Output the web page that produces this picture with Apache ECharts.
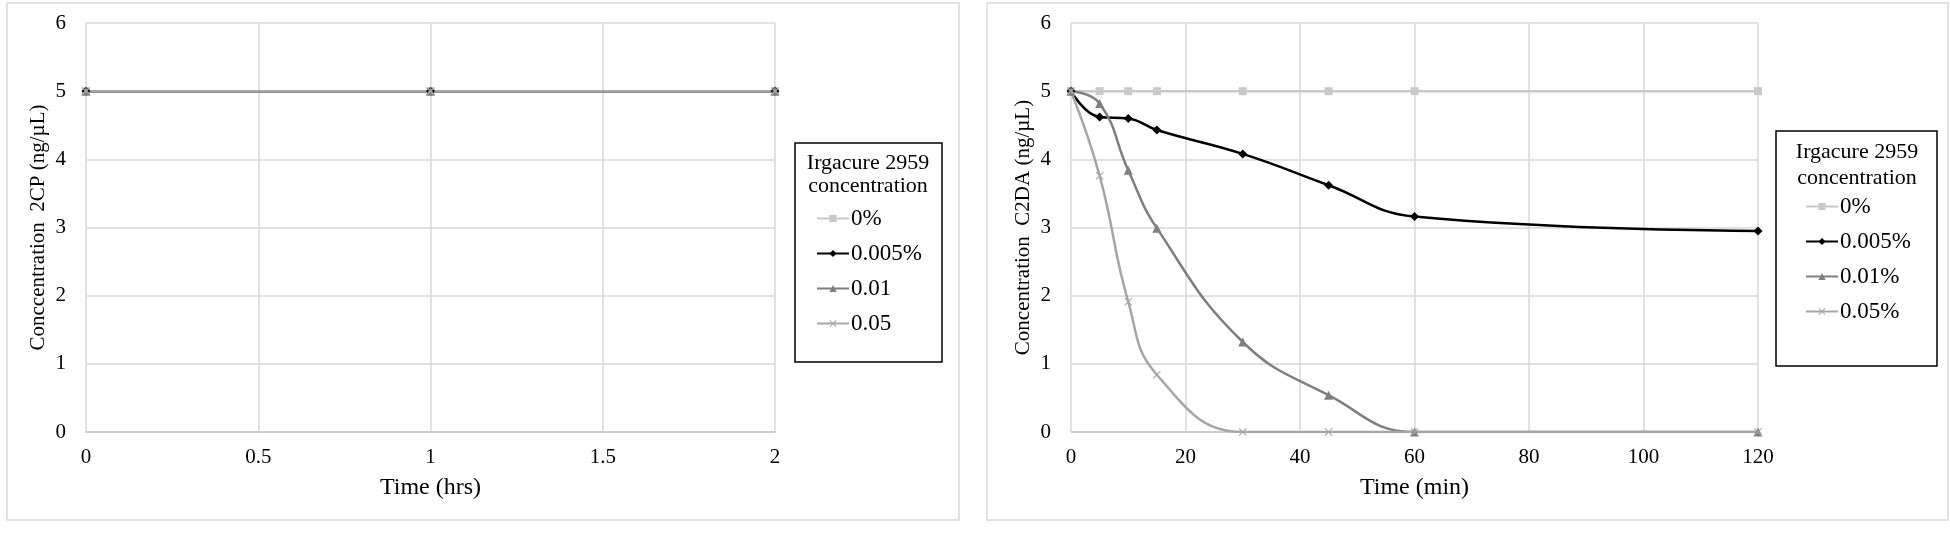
<!DOCTYPE html>
<html>
<head>
<meta charset="utf-8">
<title>Irgacure 2959</title>
<script src="https://cdn.jsdelivr.net/npm/echarts@6/dist/echarts.min.js"></script>
<style>
    html, body { margin: 0; padding: 0; background: #fff; }
    #chart { width: 1950px; height: 542px; }
</style>
</head>
<body>
<div id="chart"></div>
<script>
// left panel: 2CP, time in hours
var hrsTime = [0, 1, 2];
var cp0 = [5, 5, 5];
var cp005 = [5, 5, 5];
var cp01 = [5, 5, 5];
var cp05 = [5, 5, 5];
var cpNames = ['0%', '0.005%', '0.01', '0.05'];

// right panel: C2DA, time in minutes
var minTime = [0, 5, 10, 15, 30, 45, 60, 120];
var da0 = [5, 5, 5, 5, 5, 5, 5, 5];
var da005 = [5, 4.62, 4.6, 4.43, 4.08, 3.62, 3.16, 2.95];
var da01 = [5, 4.82, 3.84, 2.99, 1.32, 0.54, 0, 0];
var da05 = [5, 3.76, 1.91, 0.84, 0, 0, 0, 0];
var daNames = ['0%', '0.005%', '0.01%', '0.05%'];

var hrsTicks = [0, 0.5, 1, 1.5, 2];
var minTicks = [0, 20, 40, 60, 80, 100, 120];
var yTicks = [0, 1, 2, 3, 4, 5, 6];

var FONT = 'Liberation Serif';
var GRID_GRAY = '#d9d9d9';
var crossPath = 'path://M0,1L1,0L5,4L9,0L10,1L6,5L10,9L9,10L5,6L1,10L0,9L4,5Z';

// look of each concentration, same order as the names
var looks = [
    {color: '#c9c9c9', symbol: 'rect', size: 8},
    {color: '#000000', symbol: 'diamond', size: 9},
    {color: '#7f7f7f', symbol: 'triangle', size: 9},
    {color: '#a6a6a6', symbol: crossPath, size: 8}
];

function pairs(xs, ys)
{
    var out = [];
    for (var i = 0; i < xs.length; i++)
    {
        out.push([xs[i], ys[i]]);
    }
    return out;
}

function makeSeries(name, look, xs, ys, idx)
{
    return {
        name: name,
        type: 'line',
        xAxisIndex: idx,
        yAxisIndex: idx,
        smooth: 0.45,
        data: pairs(xs, ys),
        symbol: look.symbol,
        symbolSize: look.size,
        showAllSymbol: true,
        color: look.color,
        lineStyle: {color: look.color, width: 2.5},
        itemStyle: {color: look.color},
        emphasis: {disabled: true}
    };
}

function xAxisOf(idx, ticks, title)
{
    return {
        type: 'value',
        gridIndex: idx,
        min: ticks[0],
        max: ticks[ticks.length - 1],
        interval: ticks[1] - ticks[0],
        name: title,
        nameLocation: 'middle',
        nameGap: 44,
        nameTextStyle: {fontFamily: FONT, fontSize: 24, color: '#000'},
        axisLine: {show: true, lineStyle: {color: '#c8c8c8', width: 1.5}},
        axisTick: {show: false},
        axisLabel: {fontFamily: FONT, fontSize: 21, color: '#000', margin: 15},
        splitLine: {show: true, lineStyle: {color: GRID_GRAY, width: 1.5}}
    };
}

function yAxisOf(idx, title)
{
    return {
        type: 'value',
        gridIndex: idx,
        min: yTicks[0],
        max: yTicks[yTicks.length - 1],
        interval: 1,
        name: title,
        nameLocation: 'middle',
        nameGap: 37,
        nameTextStyle: {fontFamily: FONT, fontSize: 21, color: '#000'},
        axisLine: {show: false},
        axisTick: {show: false},
        axisLabel: {fontFamily: FONT, fontSize: 21, color: '#000', margin: 20},
        splitLine: {show: true, lineStyle: {color: GRID_GRAY, width: 1.5}}
    };
}

function legendOf(names, left, top)
{
    return {
        orient: 'vertical',
        left: left,
        top: top,
        padding: 0,
        itemGap: 12,
        itemWidth: 32,
        itemHeight: 9,
        selectedMode: false,
        data: names,
        textStyle: {fontFamily: FONT, fontSize: 23, color: '#000', lineHeight: 22, padding: [0, 0, 0, -3]}
    };
}

function legendBox(x, y, w, h, cx, y1, y2)
{
    return [
        {
            type: 'rect',
            shape: {x: x, y: y, width: w, height: h},
            style: {fill: '#fff', stroke: '#000', lineWidth: 1.5},
            z: -1
        },
        {
            type: 'text',
            x: cx, y: y1,
            style: {text: 'Irgacure 2959', fontFamily: FONT, fontSize: 22, fill: '#000', align: 'center', verticalAlign: 'middle'}
        },
        {
            type: 'text',
            x: cx, y: y2,
            style: {text: 'concentration', fontFamily: FONT, fontSize: 22, fill: '#000', align: 'center', verticalAlign: 'middle'}
        }
    ];
}

var series = [];
var cpData = [cp0, cp005, cp01, cp05];
var daData = [da0, da005, da01, da05];
for (var i = 0; i < 4; i++)
{
    series.push(makeSeries(cpNames[i], looks[i], hrsTime, cpData[i], 0));
}
for (var i = 0; i < 4; i++)
{
    series.push(makeSeries(daNames[i], looks[i], minTime, daData[i], 1));
}

var graphics = [
    {
        type: 'rect',
        shape: {x: 7, y: 3, width: 952, height: 517},
        style: {fill: 'none', stroke: GRID_GRAY, lineWidth: 1.5},
        z: -10
    },
    {
        type: 'rect',
        shape: {x: 987, y: 3, width: 961, height: 517},
        style: {fill: 'none', stroke: GRID_GRAY, lineWidth: 1.5},
        z: -10
    }
];
graphics = graphics.concat(legendBox(795, 143, 147, 219, 868, 163, 186));
graphics = graphics.concat(legendBox(1776, 131, 161, 235, 1857, 152, 178));

var myChart = echarts.init(document.getElementById('chart'));
var option = {
    backgroundColor: '#fff',
    animation: false,
    grid: [
        {left: 86, top: 23, width: 689, height: 409},
        {left: 1071, top: 23, width: 687, height: 409}
    ],
    xAxis: [
        xAxisOf(0, hrsTicks, 'Time (hrs)'),
        xAxisOf(1, minTicks, 'Time (min)')
    ],
    yAxis: [
        yAxisOf(0, 'Conccentration  2CP (ng/\u00b5L)'),
        yAxisOf(1, 'Concentration  C2DA (ng/\u00b5L)')
    ],
    legend: [
        legendOf(cpNames, 816, 207),
        legendOf(daNames, 1805, 195)
    ],
    graphic: {elements: graphics},
    series: series
};
myChart.setOption(option);
</script>
</body>
</html>
